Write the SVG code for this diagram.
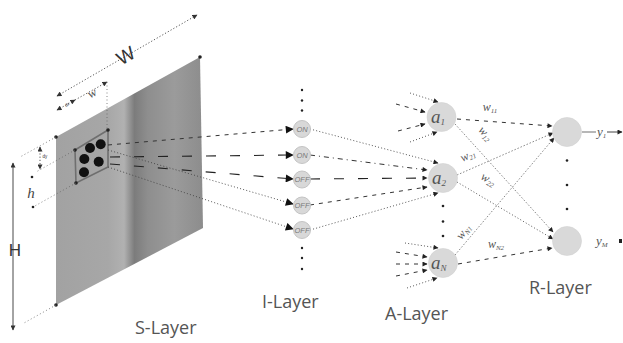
<svg xmlns="http://www.w3.org/2000/svg" width="623" height="343" viewBox="0 0 623 343">
  <defs>
    <linearGradient id="panelFill" gradientUnits="userSpaceOnUse" x1="56" y1="0" x2="204" y2="0">
      <stop offset="0" stop-color="#a2a2a2"/>
      <stop offset="0.35" stop-color="#a7a7a7"/>
      <stop offset="0.46" stop-color="#b1b1b1"/>
      <stop offset="0.53" stop-color="#7c7c7c"/>
      <stop offset="0.62" stop-color="#8e8e8e"/>
      <stop offset="0.8" stop-color="#9b9b9b"/>
      <stop offset="1" stop-color="#8c8c8c"/>
    </linearGradient>
    <marker id="bigHead" viewBox="0 0 10 10" refX="9" refY="5" markerWidth="10" markerHeight="8" markerUnits="userSpaceOnUse" orient="auto">
      <path d="M0,0 L10,5 L0,10 Z" fill="#111"/>
    </marker>
    <marker id="smallHead" viewBox="0 0 10 10" refX="9" refY="5" markerWidth="6" markerHeight="5" markerUnits="userSpaceOnUse" orient="auto">
      <path d="M0,0 L10,5 L0,10 Z" fill="#222"/>
    </marker>
    <marker id="dimHead" viewBox="0 0 10 10" refX="9" refY="5" markerWidth="6" markerHeight="5" markerUnits="userSpaceOnUse" orient="auto-start-reverse">
      <path d="M0,0 L10,5 L0,10 Z" fill="#333"/>
    </marker>
  </defs>
  <style>
    .dim { fill: none; stroke: #444; stroke-width: 0.9; stroke-dasharray: 1.2 2; }
    .ext { fill: none; stroke: #666; stroke-width: 0.8; stroke-dasharray: 1 2.5; }
    .dot { fill: #111; }
    .cdot { fill: #222; }
    .inode { fill: #d8d8d8; stroke: #c4c4c4; stroke-width: 1; }
    .node { fill: #d9d9d9; stroke: #d2d2d2; stroke-width: 0.6; }
    .onoff { font-family: "Liberation Sans", Arial, sans-serif; font-style: italic; font-size: 7.5px; fill: #7a7a7a; text-anchor: middle; }
    .alab { font-family: "Liberation Serif", "Times New Roman", serif; font-style: italic; font-size: 19px; fill: #555; }
    .sub { font-size: 9px; }
    .wlab { font-family: "Liberation Serif", "Times New Roman", serif; font-style: italic; font-size: 12px; fill: #555; }
    .wsub { font-size: 7px; }
    .ylab { font-family: "Liberation Serif", "Times New Roman", serif; font-style: italic; font-size: 13px; fill: #555; }
    .ysub { font-size: 7px; }
    .layer { font-family: "Open Sans", "Liberation Sans", sans-serif; font-size: 18px; fill: #555; }
    .dimtxt { font-family: "Liberation Sans", Arial, sans-serif; fill: #333; text-anchor: middle; }
    .dash { fill: none; stroke: #333; stroke-width: 1; stroke-dasharray: 4 5; }
    .ldash { fill: none; stroke: #222; stroke-width: 1.1; stroke-dasharray: 10 14; }
    .dotted { fill: none; stroke: #444; stroke-width: 0.9; stroke-dasharray: 1 2.2; }
    .dashdot { fill: none; stroke: #333; stroke-width: 1; stroke-dasharray: 5 4 1 4; }
    .fine { fill: none; stroke: #777; stroke-width: 0.9; stroke-dasharray: 1.5 1.8; }
  </style>

  <!-- sensor panel with the receptive window -->
  <g id="s-layer">
    <polygon points="56,137 200,57 203,228 56,305" fill="url(#panelFill)"/>
    <circle class="cdot" cx="56" cy="137" r="1.8"/>
    <circle class="cdot" cx="200" cy="57" r="1.8"/>
    <circle class="cdot" cx="56" cy="305" r="1.8"/>
    <g id="window">
      <polygon points="75,150 108,130 108,167 76,183" fill="none" stroke="#6f6f6f" stroke-width="1.6"/>
      <circle class="cdot" cx="75" cy="150" r="1.8"/>
      <circle class="cdot" cx="108" cy="130" r="1.8"/>
      <circle class="cdot" cx="76" cy="183" r="1.8"/>
      <circle class="dot" cx="90" cy="148" r="5"/>
      <circle class="dot" cx="100.7" cy="144.3" r="5"/>
      <circle class="dot" cx="84.3" cy="159" r="5"/>
      <circle class="dot" cx="98.7" cy="161.7" r="5"/>
      <circle class="dot" cx="84" cy="172.3" r="5"/>
    </g>
    <text class="layer" x="135" y="334">S-Layer</text>
  </g>

  <!-- dimensioning of panel and window -->
  <g id="dimensions">
    <line class="dim" x1="57" y1="96" x2="197" y2="15" marker-start="url(#dimHead)" marker-end="url(#dimHead)"/>
    <text class="dimtxt" x="126" y="62" transform="rotate(-30 126 56)" style="font-size:19px">W</text>
    <line class="dim" x1="57" y1="110" x2="75" y2="100" marker-start="url(#dimHead)" marker-end="url(#dimHead)"/>
    <line class="dim" x1="75" y1="100" x2="107" y2="82" marker-end="url(#dimHead)"/>
    <text class="dimtxt" x="67" y="106" transform="rotate(-30 67 104)" style="font-size:4.5px">dx</text>
    <text class="wlab" x="92" y="97" transform="rotate(-30 92 93)" style="font-size:13px" text-anchor="middle">w</text>
    <line class="ext" x1="107" y1="82" x2="107" y2="130"/>
    <line class="ext" x1="56" y1="137" x2="20" y2="157"/>
    <line class="ext" x1="56" y1="305" x2="24" y2="323"/>
    <line class="ext" x1="75" y1="150" x2="36" y2="172"/>
    <line class="ext" x1="76" y1="183" x2="33" y2="207"/>
    <line class="dim" x1="40" y1="147" x2="40" y2="169" marker-start="url(#dimHead)" marker-end="url(#dimHead)"/>
    <text class="dimtxt" x="45" y="158" style="font-size:4.5px">dy</text>
    <circle class="cdot" cx="32" cy="177" r="1.3"/>
    <circle class="cdot" cx="33" cy="207" r="1.3"/>
    <text class="alab" x="31" y="198" style="font-size:15px;fill:#444" text-anchor="middle">h</text>
    <line x1="13" y1="163" x2="13" y2="330" stroke="#333" stroke-width="0.9" marker-start="url(#dimHead)" marker-end="url(#dimHead)"/>
    <text class="dimtxt" x="15" y="256" style="font-size:17px">H</text>
  </g>

  <!-- connectors between layers -->
  <g id="connectors">
    <!-- window to I-layer -->
    <line class="dash" x1="108" y1="145" x2="293" y2="129" marker-end="url(#bigHead)"/>
    <line class="ldash" x1="110" y1="157" x2="293" y2="155" marker-end="url(#bigHead)"/>
    <line class="ldash" x1="110" y1="164" x2="293" y2="179" marker-end="url(#bigHead)"/>
    <line class="dotted" x1="108" y1="150" x2="293" y2="204" marker-end="url(#bigHead)"/>
    <line class="dotted" x1="108" y1="167" x2="293" y2="229" marker-end="url(#bigHead)"/>
    <!-- I-layer to a2 -->
    <line class="dotted" x1="310" y1="129" x2="438" y2="163" marker-end="url(#smallHead)"/>
    <line class="dashdot" x1="310" y1="155" x2="427" y2="170" marker-end="url(#smallHead)"/>
    <line class="ldash" x1="310" y1="179" x2="427" y2="178" marker-end="url(#smallHead)"/>
    <line class="dash" x1="310" y1="205" x2="427" y2="187" marker-end="url(#smallHead)"/>
    <line class="dotted" x1="310" y1="230" x2="438" y2="193" marker-end="url(#smallHead)"/>
    <!-- inputs to a1 -->
    <line class="dotted" x1="410" y1="93" x2="438" y2="102" marker-end="url(#smallHead)"/>
    <line class="dash" x1="396" y1="104" x2="425" y2="112" marker-end="url(#smallHead)"/>
    <line class="dash" x1="398" y1="131" x2="425" y2="124" marker-end="url(#smallHead)"/>
    <line class="dotted" x1="410" y1="142" x2="437" y2="132" marker-end="url(#smallHead)"/>
    <!-- inputs to aN -->
    <line class="dotted" x1="405" y1="243" x2="438" y2="248" marker-end="url(#smallHead)"/>
    <line class="dash" x1="396" y1="252" x2="427" y2="257" marker-end="url(#smallHead)"/>
    <line class="dash" x1="396" y1="264" x2="427" y2="264" marker-end="url(#smallHead)"/>
    <line class="dash" x1="396" y1="276" x2="427" y2="270" marker-end="url(#smallHead)"/>
    <line class="dotted" x1="407" y1="288" x2="437" y2="278" marker-end="url(#smallHead)"/>
    <!-- A-layer to R-layer -->
    <line class="dash" x1="457" y1="119" x2="552" y2="126" marker-end="url(#smallHead)"/>
    <line class="fine" x1="455" y1="124" x2="553" y2="232" marker-end="url(#smallHead)"/>
    <line class="fine" x1="457" y1="175" x2="553" y2="133" marker-end="url(#smallHead)"/>
    <line class="dotted" x1="457" y1="182" x2="553" y2="239" marker-end="url(#smallHead)"/>
    <line class="fine" x1="455" y1="255" x2="554" y2="138" marker-end="url(#smallHead)"/>
    <line class="dash" x1="458" y1="264" x2="552" y2="248" marker-end="url(#smallHead)"/>
    <!-- outputs -->
    <line x1="582" y1="132" x2="596" y2="132" stroke="#888" stroke-width="1.2"/>
    <line x1="607" y1="132" x2="622" y2="132" stroke="#444" stroke-width="1" marker-end="url(#smallHead)"/>
    <rect x="619" y="239" width="3" height="4" fill="#222"/>
  </g>

  <!-- weight labels -->
  <g id="weights">
    <text class="wlab" x="490" y="111" text-anchor="middle">w<tspan class="wsub" dy="2">11</tspan></text>
    <text class="wlab" x="485" y="137" transform="rotate(48 485 134)" text-anchor="middle">w<tspan class="wsub" dy="2">12</tspan></text>
    <text class="wlab" x="468" y="159" transform="rotate(-25 468 156)" text-anchor="middle">w<tspan class="wsub" dy="2">21</tspan></text>
    <text class="wlab" x="488" y="183" transform="rotate(30 488 180)" text-anchor="middle">w<tspan class="wsub" dy="2">22</tspan></text>
    <text class="wlab" x="464" y="235" transform="rotate(-52 464 232)" text-anchor="middle">w<tspan class="wsub" dy="2">N1</tspan></text>
    <text class="wlab" x="496" y="248" text-anchor="middle">w<tspan class="wsub" dy="2">N2</tspan></text>
  </g>

  <!-- I-layer -->
  <g id="i-layer">
    <circle class="cdot" cx="302" cy="90" r="1.2"/>
    <circle class="cdot" cx="302" cy="100.5" r="1.2"/>
    <circle class="cdot" cx="302" cy="110.5" r="1.2"/>
    <g id="i1"><circle class="inode" cx="302" cy="129" r="8.5"/><text class="onoff" x="302" y="131.7">ON</text></g>
    <g id="i2"><circle class="inode" cx="302" cy="155" r="8.5"/><text class="onoff" x="302" y="157.7">ON</text></g>
    <g id="i3"><circle class="inode" cx="302" cy="179.5" r="8.5"/><text class="onoff" x="302" y="182.2">OFF</text></g>
    <g id="i4"><circle class="inode" cx="302" cy="205.5" r="8.5"/><text class="onoff" x="302" y="208.2">OFF</text></g>
    <g id="i5"><circle class="inode" cx="302" cy="230" r="8.5"/><text class="onoff" x="302" y="232.7">OFF</text></g>
    <circle class="cdot" cx="302" cy="248" r="1.2"/>
    <circle class="cdot" cx="302" cy="258" r="1.2"/>
    <circle class="cdot" cx="302" cy="269" r="1.2"/>
    <text class="layer" x="262" y="308">I-Layer</text>
  </g>

  <!-- A-layer -->
  <g id="a-layer">
    <g id="a1"><circle class="node" cx="441.5" cy="117" r="14.5"/><text class="alab" x="431" y="123">a<tspan class="sub" dy="2">1</tspan></text></g>
    <g id="a2"><circle class="node" cx="443" cy="178" r="14.5"/><text class="alab" x="432" y="184">a<tspan class="sub" dy="2">2</tspan></text></g>
    <circle class="cdot" cx="443" cy="206" r="1.3"/>
    <circle class="cdot" cx="443" cy="221.5" r="1.3"/>
    <circle class="cdot" cx="443" cy="236" r="1.3"/>
    <g id="aN"><circle class="node" cx="443" cy="263" r="14.5"/><text class="alab" x="431" y="269">a<tspan class="sub" dy="2">N</tspan></text></g>
    <text class="layer" x="385" y="320">A-Layer</text>
  </g>

  <!-- R-layer -->
  <g id="r-layer">
    <g id="r1"><circle class="node" cx="567" cy="132" r="14.5"/></g>
    <circle class="cdot" cx="567" cy="160.5" r="1.3"/>
    <circle class="cdot" cx="567" cy="185" r="1.3"/>
    <circle class="cdot" cx="567" cy="209" r="1.3"/>
    <g id="r2"><circle class="node" cx="567" cy="241" r="14.5"/></g>
    <text class="ylab" x="597" y="136">y<tspan class="ysub" dy="2">1</tspan></text>
    <text class="ylab" x="596" y="245">y<tspan class="ysub" dy="2">M</tspan></text>
    <text class="layer" x="529" y="294">R-Layer</text>
  </g>
</svg>
